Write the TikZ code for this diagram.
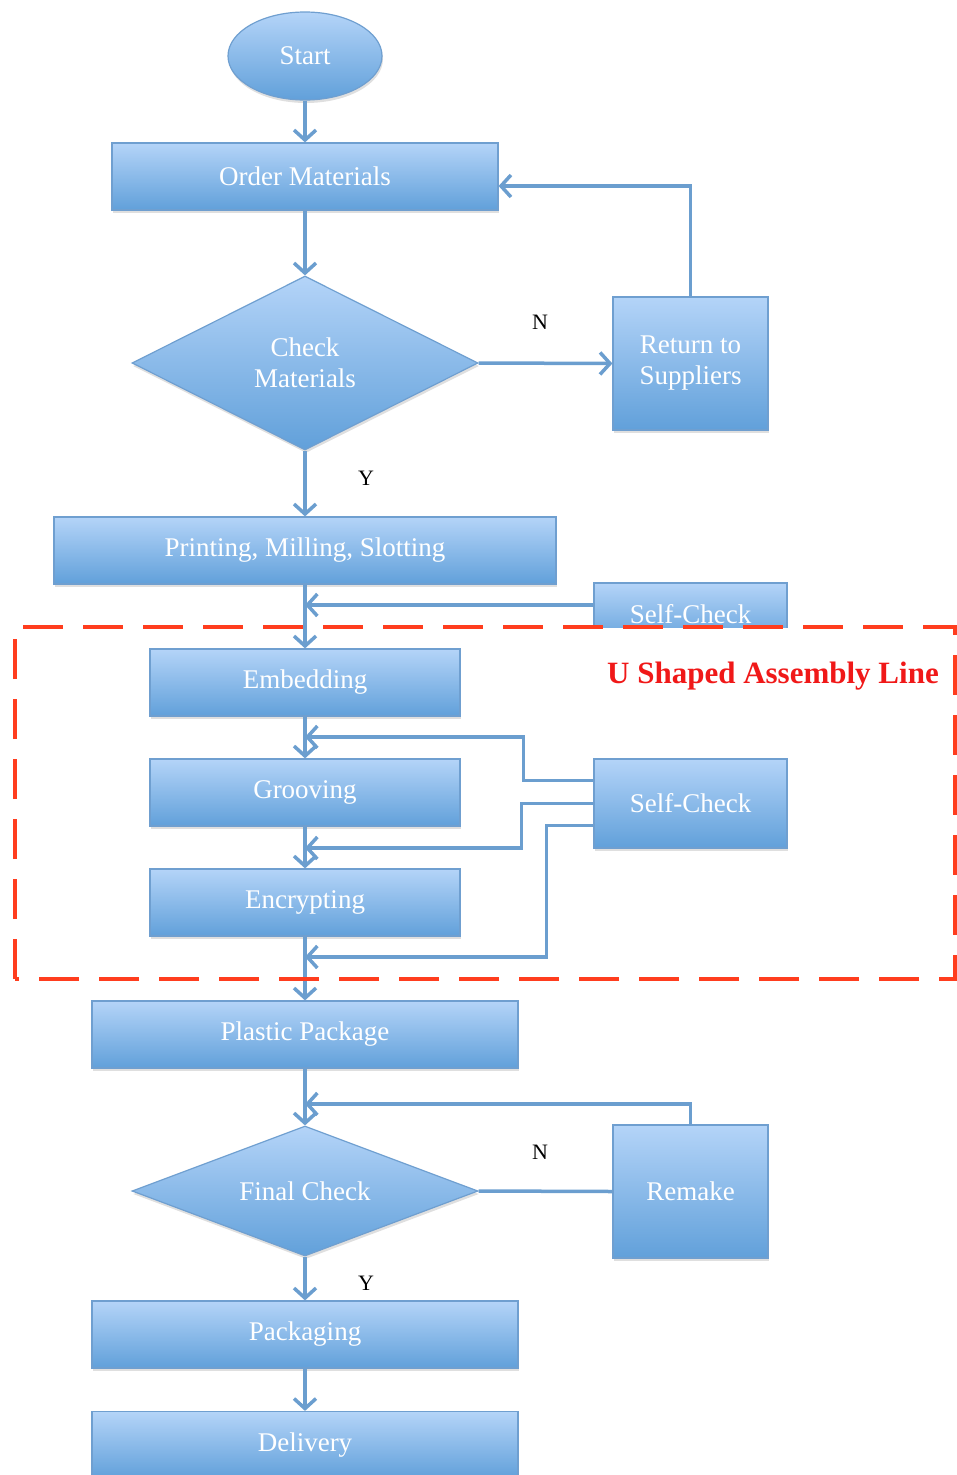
\documentclass[tikz,border=0pt]{standalone}
\usepackage{fontspec}
\setmainfont{Liberation Serif}
\usetikzlibrary{shapes.geometric,arrows.meta,shadows,calc}
\definecolor{boxtop}{HTML}{B4D4F8}
\definecolor{boxbot}{HTML}{61A0DA}
\definecolor{boxedge}{HTML}{6F9FD0}
\definecolor{flow}{HTML}{6B9ECF}
\definecolor{zone}{HTML}{FF3D1E}
\definecolor{zonetext}{HTML}{F01818}
\begin{document}
\begin{tikzpicture}[x=1pt,y=-1pt,
  blk/.style={draw=boxedge, line width=1.2pt, top color=boxtop, bottom color=boxbot,
    text=white, font=\fontsize{27}{31}\selectfont, align=center, inner sep=0pt,
    drop shadow={shadow xshift=1pt,shadow yshift=-3pt,opacity=0.25}},
  stepbox/.style={blk, rectangle, minimum width=#1, minimum height=67},
  sidebox/.style 2 args={blk, rectangle, minimum width=#1, minimum height=#2},
  decide/.style 2 args={blk, diamond, shape aspect=2.5, minimum width=#1, minimum height=#2},
  terminal/.style={blk, ellipse, minimum width=154, minimum height=88},
  arr/.style={draw=flow, line width=3.5pt, -{Straight Barb[length=10pt,width=22pt]}},
  plain/.style={draw=flow, line width=3.5pt},
  yn/.style={font=\fontsize{22}{26}\selectfont, text=black},
  zonebox/.style={draw=zone, line width=4pt, dash pattern=on 40pt off 20pt},
]
\useasboundingbox (0,0) rectangle (956,1475);

% main column
\node[terminal] (start) at (305,56) {Start};
\node[stepbox=386] (order) at (305,176.5) {Order Materials};
\node[decide={346}{174}] (chk) at (305,363) {Check\\Materials};
\node[sidebox={155}{133}] (ret) at (690.5,363.5) {Return to\\Suppliers};
\node[stepbox=502] (print) at (305,550.5) {Printing, Milling, Slotting};

\begin{scope}
  \clip (0,0) rectangle (956,627);
  \node[sidebox={193}{62}] (scA) at (690.5,614) {Self-Check};
\end{scope}

\node[stepbox=310] (emb) at (305,682.5) {Embedding};
\node[stepbox=310] (groov) at (305,792.5) {Grooving};
\node[stepbox=310] (enc) at (305,902.5) {Encrypting};
\node[sidebox={193}{89}] (scB) at (690.5,803.5) {Self-Check};

\node[stepbox=426] (pp) at (305,1034.5) {Plastic Package};
\node[decide={346}{130}] (fin) at (305,1191) {Final Check};
\node[sidebox={155}{133}] (rem) at (690.5,1191.5) {Remake};
\node[stepbox=426] (pack) at (305,1334.5) {Packaging};
\node[stepbox=426] (del) at (305,1445) {Delivery};

% junction points on the main column
\coordinate (j0) at (305,605);
\coordinate (j1) at (305,737);
\coordinate (j2) at (305,848);
\coordinate (j3) at (305,957);
\coordinate (j4) at (305,1104);

% connectors
\draw[arr] (start.south) -- (order.north);
\draw[arr] (order.south) -- (chk.north);
\draw[arr] (chk.east) -- (ret.west);
\draw[arr] (ret.north) |- ([yshift=-9.5pt]order.east);
\draw[arr] (chk.south) -- (print.north);
\draw[arr] (print.south) -- (emb.north);
\draw[arr] ([yshift=9pt]scA.west) -- (j0);
\draw[arr] (emb.south) -- (groov.north);
\draw[arr] (groov.south) -- (enc.north);
\draw[arr] (enc.south) -- (pp.north);
\draw[arr] ([yshift=23pt]scB.west) -- ++(-70,0) |- (j1);
\draw[arr] (scB.west) -- ++(-72,0) |- (j2);
\draw[arr] ([yshift=-22pt]scB.west) -- ++(-47,0) |- (j3);
\draw[arr] (pp.south) -- (fin.north);
\draw[plain] (fin.east) -- (rem.west);
\draw[arr] (rem.north) |- (j4);
\draw[arr] (fin.south) -- (pack.north);
\draw[arr] (pack.south) -- (del.north);

% branch labels
\node[yn] (n1) at (540,322) {N};
\node[yn] (y1) at (366,478) {Y};
\node[yn] (n2) at (540,1152) {N};
\node[yn] (y2) at (366,1283) {Y};

% assembly-line zone
\draw[zonebox] (15,979) -- (15,627) -- (955,627) -- (955,979) -- cycle;
\node[text=zonetext, font=\bfseries\fontsize{31}{35}\selectfont] (zlabel) at (773,676) {U Shaped Assembly Line};
\end{tikzpicture}
\end{document}
